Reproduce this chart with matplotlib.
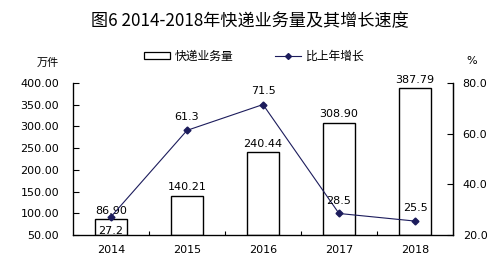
import matplotlib.pyplot as plt
from matplotlib.lines import Line2D
from matplotlib.patches import Patch

plt.rcParams['font.family'] = ['DejaVu Sans', 'Noto Sans CJK SC']

years = ['2014', '2015', '2016', '2017', '2018']
volume = [86.90, 140.21, 240.44, 308.90, 387.79]
growth = [27.2, 61.3, 71.5, 28.5, 25.5]
volume_labels = ['86.90', '140.21', '240.44', '308.90', '387.79']
growth_labels = ['27.2', '61.3', '71.5', '28.5', '25.5']

cjk = ['Noto Sans CJK SC', 'DejaVu Sans']
navy = '#1c1c5c'
fs = 8

fig = plt.figure(figsize=(5.02, 2.61), dpi=100)
ax = fig.add_axes([0.1454, 0.0996, 0.757, 0.5824])
x = list(range(len(years)))

ax.bar(x, [v - 50 for v in volume], bottom=50, width=0.41,
       facecolor='white', edgecolor='black', linewidth=1.0, zorder=2)
ax.set_ylim(50, 400)
ax.set_xlim(-0.5, 4.5)
ax.set_yticks([50, 100, 150, 200, 250, 300, 350, 400])
ax.set_yticklabels(['%.2f' % t for t in ax.get_yticks()], fontsize=fs)
ax.set_xticks([i + 0.5 for i in range(4)])
ax.set_xticklabels([])
ax.tick_params(axis='x', direction='in', length=3, width=0.8)
ax.tick_params(axis='y', direction='in', length=4, width=0.8, pad=10)
for i, y in enumerate(years):
    ax.annotate(y, (i, 50), xytext=(0, -7), textcoords='offset points',
                ha='center', va='top', fontsize=fs)
ax.spines['top'].set_visible(False)
for s in ['left', 'bottom', 'right']:
    ax.spines[s].set_linewidth(0.9)

for i, lab in enumerate(volume_labels):
    ax.annotate(lab, (i, volume[i]), xytext=(0, 2.5), textcoords='offset points',
                ha='center', va='bottom', fontsize=fs, zorder=5)

ax2 = ax.twinx()
ax2.plot(x, growth, color=navy, linewidth=0.8, marker='D', markersize=3.5, zorder=4)
ax2.set_ylim(20, 80)
ax2.set_yticks([20, 40, 60, 80])
ax2.set_yticklabels(['%.1f' % t for t in ax2.get_yticks()], fontsize=fs)
ax2.tick_params(axis='y', direction='in', length=4, width=0.8, pad=7)
ax2.spines['top'].set_visible(False)
ax2.spines['right'].set_linewidth(0.9)

offsets = [-7, 6, 6, 5.5, 6]
for i, lab in enumerate(growth_labels):
    va = 'top' if offsets[i] < 0 else 'bottom'
    ax2.annotate(lab, (i, growth[i]), xytext=(0, offsets[i]), textcoords='offset points',
                 ha='center', va=va, fontsize=fs, zorder=5)

fig.text(0.497, 0.92, '图6 2014-2018年快递业务量及其增长速度', ha='center', va='center',
         fontsize=12.3, family=cjk)
fig.text(0.096, 0.76, '万件', ha='center', va='center', fontsize=fs, family=cjk)
fig.text(0.94, 0.768, '%', ha='center', va='center', fontsize=fs)

handles = [Patch(facecolor='white', edgecolor='black', linewidth=0.9),
           Line2D([], [], color=navy, linewidth=0.8, marker='D', markersize=3)]
fig.legend(handles, ['快递业务量', '比上年增长'], loc='center', bbox_to_anchor=(0.507, 0.785),
           ncol=2, frameon=False, prop={'family': cjk, 'size': 8.5},
           handlelength=2.2, handleheight=0.6, columnspacing=3.5, handletextpad=0.4)

fig.savefig('out.png', dpi=100)
